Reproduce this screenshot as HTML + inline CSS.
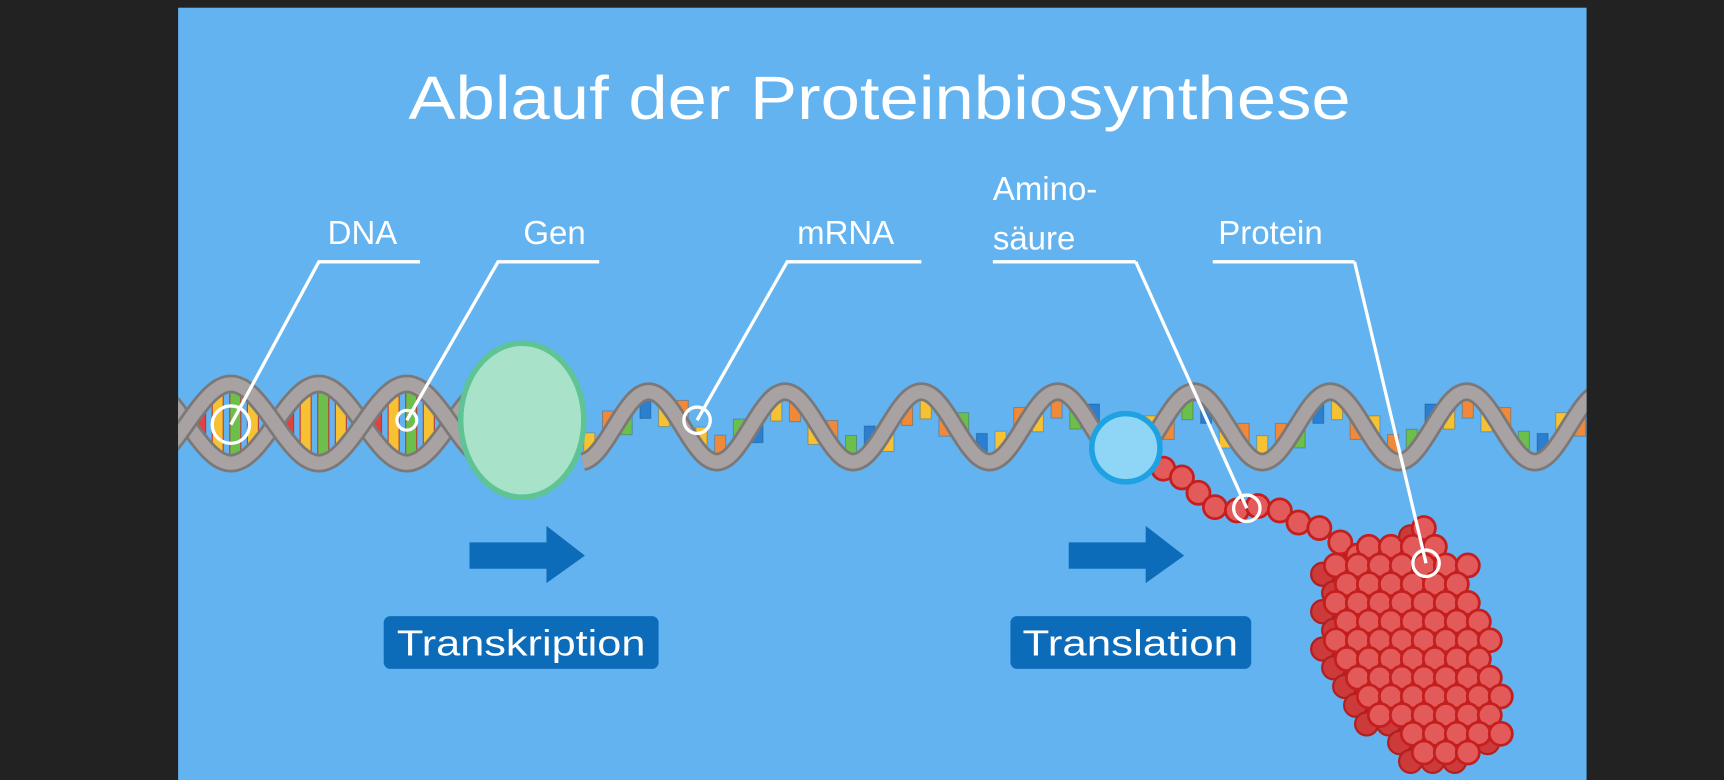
<!DOCTYPE html>
<html><head><meta charset="utf-8"><style>
html,body{margin:0;padding:0;background:#222;width:1724px;height:780px;overflow:hidden}
svg{display:block}
text{font-family:"Liberation Sans",sans-serif;fill:#fff}
</style></head><body>
<svg id="s" width="1724" height="780" viewBox="0 0 1568 709" preserveAspectRatio="none" xmlns="http://www.w3.org/2000/svg">
<defs><clipPath id="pc"><rect x="162" y="7" width="1281" height="702"/></clipPath></defs>
<rect x="0" y="0" width="1568" height="709" fill="#222"/>
<rect x="162" y="7" width="1281" height="702" fill="#62b3f0"/>
<g clip-path="url(#pc)">
<g id="dna"></g>
<g id="mrna"></g>
<ellipse cx="475" cy="382" rx="56" ry="70" fill="#a8e2c9" stroke="#5ec494" stroke-width="5"/>
<g id="protein"></g>
<circle cx="1024" cy="407" r="31" fill="#8fd5f6" stroke="#1ea2e2" stroke-width="5"/>
</g>
<text x="800" y="108" font-size="56" text-anchor="middle" textLength="857" lengthAdjust="spacingAndGlyphs">Ablauf der Proteinbiosynthese</text>
<g id="labels" fill="none" stroke="#fff" stroke-width="3"></g>
<g><path d="M427 493H497V478L532 505L497 530V517H427Z" fill="#0d6cb9"/></g>
<g><path d="M972 493H1042V478L1077 505L1042 530V517H972Z" fill="#0d6cb9"/></g>
<g><rect x="349" y="560" width="250" height="48" rx="6" fill="#0d6cb9"/><text x="474" y="596" font-size="33" text-anchor="middle" textLength="226" lengthAdjust="spacingAndGlyphs">Transkription</text></g>
<g><rect x="919" y="560" width="219" height="48" rx="6" fill="#0d6cb9"/><text x="1028" y="596" font-size="33" text-anchor="middle" textLength="196" lengthAdjust="spacingAndGlyphs">Translation</text></g>
</svg>
<script>
const NS="http://www.w3.org/2000/svg";
const labelNames=["DNA","Gen","mRNA","Amino-säure","Protein"];
const labelTextX=[298,476,725,903,1108];
const labelLineX=[[290,382],[453,545],[716,838],[903,1033],[1103,1232]];
const labelTarget=[[210,386,17],[370,382,9],[634,382,12],[1134,462,12],[1297,512,12]];
const chain=[[1058,426],[1075,434],[1090,448],[1105,461],[1125,464],[1144,460],[1164,464],[1181,475],[1200,480],[1219,493],[1235,505]];
const blob=[[1265,482],[1300,478],[1318,495],[1342,512],[1345,555],[1362,600],[1378,630],[1372,660],[1350,685],[1325,695],[1295,688],[1265,660],[1235,635],[1215,610],[1212,560],[1205,515],[1240,495]];
function el(t,a,p){const e=document.createElementNS(NS,t);for(const k in a)e.setAttribute(k,a[k]);p.appendChild(e);return e;}
const dna=document.getElementById('dna');
const P=160,cy=385,A=36;
for(let x=166;x<420;x+=16){
  const i=Math.round((x-166)/16);
  const c=i%5==0||i%5==1?"#e0433f":(i%5==2?"#f6c233":(i%5==3?"#6cbf4a":"#f6c233"));
  const h=Math.abs(A*Math.sin(2*Math.PI*(x-170)/P));
  if(h>8){const r=el('rect',{x:x-5,y:cy-h,width:10,height:2*h,fill:c,stroke:"#b83a38","stroke-width":1},dna);
  }
}
for(const s of [1,-1]){
  let d="";for(let x=150;x<=430;x+=2){const y=cy+s*A*Math.sin(2*Math.PI*(x-170)/P);d+=(x==150?"M":"L")+x+" "+y.toFixed(1);}
  el('path',{d:d,fill:"none",stroke:"#7d7878","stroke-width":17},dna);
  const p=el('path',{d:d,fill:"none",stroke:"#a8a2a2","stroke-width":12},dna);
  
}
const mr=document.getElementById('mrna');
const fy=x=>388-32*Math.cos(2*Math.PI*(x-590)/124);
const bcol=["#f6c233","#f08a3a","#6cbf4a","#2a7fd0","#f6c233","#f08a3a"];
let k=0;
for(let x=536;x<1440;x+=17,k++){
  const y=fy(x);const up=y<388;
  const r=el('rect',{x:x-5,y:up?y:y-24,width:10,height:24,fill:bcol[k%6],stroke:"#00000030","stroke-width":1},mr);
  
}
let d="";for(let x=530;x<=1450;x+=2){d+=(x==530?"M":"L")+x+" "+fy(x).toFixed(1);}
el('path',{d:d,fill:"none",stroke:"#7d7878","stroke-width":17},mr);
el('path',{d:d,fill:"none",stroke:"#a8a2a2","stroke-width":12},mr);
const pr=document.getElementById('protein');
function inside(x,y,poly){let c=false;for(let i=0,j=poly.length-1;i<poly.length;j=i++){const[xi,yi]=poly[i],[xj,yj]=poly[j];if((yi>y)!=(yj>y)&&x<(xj-xi)*(y-yi)/(yj-yi)+xi)c=!c;}return c;}
const pts=[];
for(let r=0,y=480;y<700;y+=17,r++){for(let x=1195+(r%2)*10;x<1385;x+=20){if(inside(x,y,blob))pts.push([x,y]);}}
for(const [x,y] of pts){el('circle',{cx:x-12,cy:y+8,r:10.5,fill:"#cc3a3a",stroke:"#b02020","stroke-width":2},pr);}
for(const [x,y] of chain.concat(pts)){const c=el('circle',{cx:x,cy:y,r:10.5,fill:"#e35a5a",stroke:"#c41e1e","stroke-width":2.5},pr);
}
const lg=document.getElementById('labels');
labelNames.forEach((n,i)=>{
  const [x1,x2]=labelLineX[i],[tx,ty,tr]=labelTarget[i];
  el('path',{d:`M${x2} 238H${x1} ${i>=3?`M${x2} 238`:""}L${tx} ${ty}`},lg);
  el('circle',{cx:tx,cy:ty,r:tr},lg);
  if(i==3){
    const t1=el('text',{x:903,y:182,"font-size":30,stroke:"none"},lg);t1.textContent="Amino-";
    
    const t2=el('text',{x:903,y:227,"font-size":30,stroke:"none"},lg);t2.textContent="säure";
    
  } else {
    const t=el('text',{x:labelTextX[i],y:222,"font-size":30,stroke:"none"},lg);t.textContent=n;
    
  }
});
</script>
</body></html>
